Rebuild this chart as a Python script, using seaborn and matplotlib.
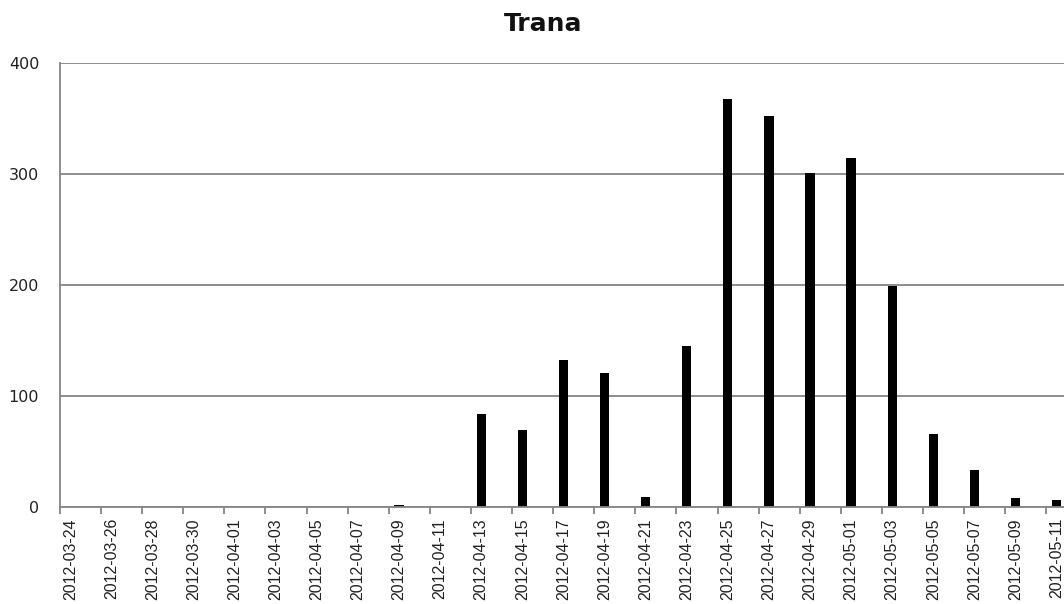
import matplotlib
matplotlib.use("Agg")
import matplotlib.pyplot as plt
import seaborn as sns
import pandas as pd
from matplotlib.ticker import FixedLocator

title = "Trana"
dates = [f"2012-03-{d:02d}" for d in range(24, 32)] + \
        [f"2012-04-{d:02d}" for d in range(1, 31)] + \
        [f"2012-05-{d:02d}" for d in range(1, 12)]
counts = [0, 0, 0, 0, 0, 0, 0, 0,                     # 03-24 .. 03-31
          0, 0, 0, 0, 0, 0, 0, 0, 2, 0,               # 04-01 .. 04-10
          0, 0, 84, 0, 69, 0, 132, 0, 121, 0,         # 04-11 .. 04-20
          9, 0, 145, 0, 368, 0, 352, 0, 301, 0,       # 04-21 .. 04-30
          314, 0, 199, 0, 66, 0, 33, 0, 8, 0, 6]      # 05-01 .. 05-11
yticks = [0, 100, 200, 300, 400]

df = pd.DataFrame({"date": dates, "count": counts})

sns.set_style("white")
plt.rcParams['font.family'] = ['DejaVu Sans']

fig = plt.figure(figsize=(10.64, 6.04), dpi=100)
ax = fig.add_axes([60 / 1064, 97 / 604, 1 - 60 / 1064, 444 / 604])

sns.barplot(data=df, x="date", y="count", order=dates, color="black",
            width=0.45, linewidth=0, saturation=1, ax=ax)

grey = "#858585"
ax.set_ylim(0, 400)
ax.set_yticks(yticks)
ax.set_yticklabels([str(v) for v in yticks], fontsize=11.5, color="#222222")
ax.yaxis.grid(True, color=grey, linewidth=1.3)
ax.set_axisbelow(True)

ax.set_xlim(-0.5, 48.36)
major = list(range(0, len(dates), 2))
ax.set_xticks(major)
ax.set_xticklabels([dates[i] for i in major], rotation=90,
                   fontsize=11.5, family=['Liberation Sans', 'DejaVu Sans'],
                   color="#222222")
ax.xaxis.set_minor_locator(FixedLocator([i - 0.5 for i in major]))
ax.tick_params(axis="x", which="major", length=0, pad=8)
ax.tick_params(axis="x", which="minor", length=5, width=1.3, color=grey, direction="out")
ax.tick_params(axis="y", length=6, width=1.3, color=grey, direction="out", pad=9)
ax.tick_params(axis="x", which="both", bottom=True)

for s in ["top", "right"]:
    ax.spines[s].set_visible(False)
for s in ["left", "bottom"]:
    ax.spines[s].set_color(grey)
    ax.spines[s].set_linewidth(1.3)

ax.set_xlabel("")
ax.set_ylabel("")

fig.text(543 / 1064, 1 - 24 / 604, title, ha="center", va="center",
         fontsize=18, fontweight="bold", color="#111111")

fig.savefig("out.png", dpi=100)
